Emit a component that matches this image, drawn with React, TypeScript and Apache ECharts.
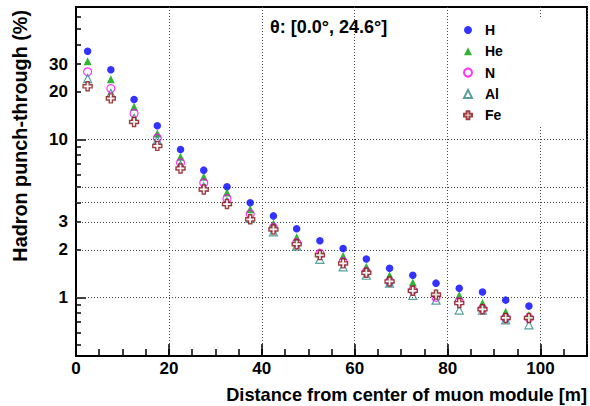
import React, { useEffect, useRef } from 'react';
import * as echarts from 'echarts';

// Distance bin centres [m]
const distances = [2.5, 7.5, 12.5, 17.5, 22.5, 27.5, 32.5, 37.5, 42.5, 47.5, 52.5, 57.5, 62.5, 67.5, 72.5, 77.5, 82.5, 87.5, 92.5, 97.5];

// Hadron punch-through (%)
const hValues = [36.2, 27.6, 17.9, 12.2, 8.64, 6.39, 5.01, 3.97, 3.28, 2.72, 2.28, 2.04, 1.75, 1.53, 1.38, 1.23, 1.14, 1.08, 0.96, 0.88];
const heValues = [31.3, 24.1, 16.1, 10.9, 7.76, 5.8, 4.62, 3.61, 2.94, 2.4, 1.94, 1.83, 1.56, 1.38, 1.24, 1.07, 1.03, 0.92, 0.81, 0.77];
const nValues = [26.8, 21.0, 14.6, 10.2, 7.11, 5.31, 4.21, 3.37, 2.77, 2.22, 1.9, 1.68, 1.45, 1.26, 1.11, 1.0, 0.94, 0.85, 0.74, 0.74];
const alValues = [24.3, 19.6, 13.6, 9.9, 6.87, 5.01, 4.03, 3.16, 2.6, 2.11, 1.74, 1.56, 1.38, 1.23, 1.03, 0.96, 0.83, 0.83, 0.72, 0.67];
const feValues = [21.7, 18.2, 12.9, 9.1, 6.55, 4.82, 3.9, 3.12, 2.69, 2.17, 1.85, 1.64, 1.43, 1.26, 1.1, 1.04, 0.92, 0.84, 0.74, 0.74];

// Axis ticks / labels
const yLabelValues = [1, 2, 3, 10, 20, 30];
const yMajorTicks = [1, 10];
const yMinorTicks = [0.5, 0.6, 0.7, 0.8, 0.9, 2, 3, 4, 5, 6, 7, 8, 9, 20, 30, 40, 50, 60];
const yGridValues = [1, 2, 3, 4, 5, 10];

const titleText = 'θ: [0.0°, 24.6°]';
const xTitle = 'Distance from center of muon module [m]';
const yTitle = 'Hadron punch-through (%)';

const FONT = "'Liberation Sans', Arial, Helvetica, sans-serif";
const crossPath =
  'path://M-1.4,-4L1.4,-4L1.4,-1.4L4,-1.4L4,1.4L1.4,1.4L1.4,4L-1.4,4L-1.4,1.4L-4,1.4L-4,-1.4L-1.4,-1.4Z';

export default function App() {
  const ref = useRef<HTMLDivElement>(null);

  useEffect(() => {
    const chart = echarts.init(ref.current as HTMLDivElement, null, { renderer: 'svg' });
    const pts = (vals: number[]) => distances.map((x, i) => [x, vals[i]]);

    const gridLine = { color: '#444', width: 1, type: [1, 2] as any };

    chart.setOption({
      animation: false,
      backgroundColor: '#fff',
      textStyle: { fontFamily: FONT },
      title: {
        text: titleText,
        left: 270,
        top: 17.5,
        padding: 0,
        textStyle: { fontFamily: FONT, fontWeight: 'bold', fontSize: 18, color: '#000' },
      },
      legend: {
        data: ['H', 'He', 'N', 'Al', 'Fe'],
        orient: 'vertical',
        left: 455,
        top: 17,
        padding: [6, 50, 4, 8],
        itemWidth: 8,
        itemHeight: 8,
        itemGap: 7.3,
        backgroundColor: '#fff',
        textStyle: { fontFamily: FONT, fontWeight: 'bold', fontSize: 14, color: '#000', padding: [0, 0, 0, 8] },
      },
      grid: {
        left: 76,
        right: 3,
        top: 7,
        bottom: 50,
        show: true,
        borderColor: '#000',
        borderWidth: 2,
        backgroundColor: 'transparent',
      },
      xAxis: [
        {
          type: 'value',
          min: 0,
          max: 110,
          interval: 20,
          position: 'bottom',
          axisLine: { show: true, lineStyle: { color: '#000', width: 2 } },
          axisTick: { show: true, inside: true, length: 12, lineStyle: { color: '#000', width: 1.5 } },
          axisLabel: {
            margin: 4,
            fontFamily: FONT,
            fontWeight: 'bold',
            fontSize: 17,
            color: '#000',
            formatter: (v: number) => (v > 100 ? '' : String(v)),
          },
          splitLine: { show: true, lineStyle: gridLine },
        },
        {
          type: 'value',
          min: 0,
          max: 110,
          interval: 5,
          position: 'bottom',
          axisLine: { show: false },
          axisTick: { show: true, inside: true, length: 7, lineStyle: { color: '#000', width: 1.5 } },
          axisLabel: { show: false },
          splitLine: { show: false },
        },
      ],
      yAxis: [
        {
          type: 'log',
          min: 0.425,
          max: 69,
          position: 'left',
          axisLine: { show: true, lineStyle: { color: '#000', width: 2 } },
          axisTick: { show: true, inside: true, length: 10, customValues: yMajorTicks, lineStyle: { color: '#000', width: 1.5 } },
          axisLabel: {
            customValues: yLabelValues,
            margin: 8,
            fontFamily: FONT,
            fontWeight: 'bold',
            fontSize: 17,
            color: '#000',
          },
          splitLine: { show: false },
          minorTick: { show: false },
        },
        {
          type: 'log',
          min: 0.425,
          max: 69,
          position: 'left',
          axisLine: { show: false },
          axisTick: { show: true, inside: true, length: 5, customValues: yMinorTicks, lineStyle: { color: '#000', width: 1.5 } },
          axisLabel: { show: false },
          splitLine: { show: false },
        },
      ],
      graphic: [
        {
          type: 'text',
          x: 587,
          y: 395,
          style: {
            text: xTitle,
            font: `bold 18.2px ${FONT}`,
            fill: '#000',
            textAlign: 'right',
            textVerticalAlign: 'middle',
          },
        },
        {
          type: 'text',
          x: 20,
          y: 10,
          rotation: Math.PI / 2,
          style: {
            text: yTitle,
            font: `bold 19.8px ${FONT}`,
            fill: '#000',
            textAlign: 'right',
            textVerticalAlign: 'middle',
          },
        },
      ],
      series: [
        {
          name: 'gridlines',
          type: 'scatter',
          data: [],
          silent: true,
          markLine: {
            silent: true,
            z: 1,
            symbol: ['none', 'none'],
            label: { show: false },
            lineStyle: gridLine,
            data: yGridValues.map((v) => ({ yAxis: v })),
          },
        },
        {
          name: 'H',
          type: 'scatter',
          z: 3,
          symbol: 'circle',
          symbolSize: 7.5,
          itemStyle: { color: '#0000ff' },
          data: pts(hValues),
        },
        {
          name: 'He',
          type: 'scatter',
          z: 3,
          symbol: 'triangle',
          symbolSize: 8,
          itemStyle: { color: '#00a000' },
          data: pts(heValues),
        },
        {
          name: 'N',
          type: 'scatter',
          z: 3,
          symbol: 'circle',
          symbolSize: 8,
          itemStyle: { color: 'rgba(255,255,255,0)', borderColor: '#ff00ff', borderWidth: 1.2 },
          data: pts(nValues),
        },
        {
          name: 'Al',
          type: 'scatter',
          z: 3,
          symbol: 'triangle',
          symbolSize: 8,
          itemStyle: { color: 'rgba(255,255,255,0)', borderColor: '#2a8787', borderWidth: 1.2 },
          data: pts(alValues),
        },
        {
          name: 'Fe',
          type: 'scatter',
          z: 3,
          symbol: crossPath,
          symbolSize: 9,
          itemStyle: { color: '#ffffff', borderColor: '#8b1010', borderWidth: 1.4 },
          data: pts(feValues),
        },
      ],
    });

    return () => chart.dispose();
  }, []);

  return <div ref={ref} style={{ position: 'fixed', left: 0, top: 0, width: 590, height: 406 }} />;
}
